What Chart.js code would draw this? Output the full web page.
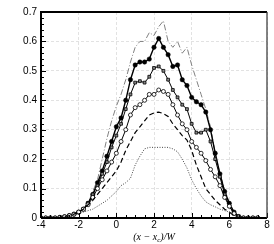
<!DOCTYPE html>
<html><head><meta charset="utf-8">
<script src="https://cdn.jsdelivr.net/npm/chart.js@4/dist/chart.umd.min.js"></script>
<style>html,body{margin:0;padding:0;background:#fff}#wrap{width:274px;height:244px}</style>
</head><body><div id="wrap"><canvas id="c" width="274" height="244"></canvas></div>
<script>
const xs = [-4,-3.75,-3.5,-3.25,-3,-2.75,-2.5,-2.25,-2,-1.75,-1.5,-1.25,-1,-0.75,-0.5,-0.25,0,0.25,0.5,0.75,1,1.25,1.5,1.75,2,2.25,2.5,2.75,3,3.25,3.5,3.75,4,4.25,4.5,4.75,5,5.25,5.5,5.75,6,6.25,6.5,6.75,7,7.25,7.5];
const dashDot = [0,0,0,0,0.002,0.004,0.008,0.012,0.02,0.03,0.05,0.09,0.13,0.2,0.27,0.33,0.38,0.42,0.47,0.53,0.58,0.6,0.6,0.63,0.62,0.65,0.67,0.6,0.58,0.6,0.56,0.58,0.52,0.47,0.42,0.37,0.31,0.22,0.15,0.1,0.05,0.02,0.005,0,0,0,0];
const filledCircles = [0,0,0,0,0.002,0.004,0.008,0.013,0.02,0.03,0.05,0.08,0.12,0.16,0.21,0.26,0.31,0.34,0.4,0.47,0.52,0.53,0.53,0.54,0.58,0.61,0.58,0.555,0.515,0.52,0.47,0.45,0.41,0.395,0.385,0.36,0.3,0.22,0.15,0.09,0.05,0.02,0.005,0,0,0,0];
const squares = [0,0,0,0,0.002,0.004,0.008,0.013,0.02,0.03,0.05,0.08,0.11,0.15,0.19,0.24,0.28,0.32,0.37,0.42,0.46,0.465,0.46,0.48,0.51,0.515,0.5,0.47,0.435,0.41,0.385,0.37,0.32,0.29,0.29,0.3,0.26,0.2,0.14,0.08,0.04,0.015,0.003,0,0,0,0];
const openCircles = [0,0,0,0,0.002,0.004,0.008,0.013,0.02,0.03,0.045,0.07,0.1,0.13,0.16,0.19,0.22,0.26,0.3,0.35,0.375,0.385,0.4,0.42,0.42,0.435,0.43,0.42,0.385,0.35,0.32,0.3,0.26,0.24,0.22,0.195,0.165,0.14,0.11,0.07,0.04,0.015,0.003,0,0,0,0];
const dashed = [0,0,0,0,0.002,0.004,0.008,0.013,0.02,0.03,0.045,0.06,0.08,0.1,0.12,0.14,0.16,0.19,0.23,0.26,0.29,0.31,0.33,0.35,0.357,0.36,0.355,0.345,0.32,0.3,0.28,0.265,0.23,0.18,0.14,0.1,0.08,0.06,0.045,0.03,0.02,0.008,0.002,0,0,0,0];
const dotted = [0,0,0,0,0.002,0.004,0.007,0.01,0.015,0.02,0.025,0.03,0.04,0.05,0.06,0.075,0.09,0.11,0.12,0.135,0.18,0.21,0.235,0.24,0.24,0.24,0.24,0.24,0.235,0.225,0.2,0.17,0.13,0.1,0.075,0.055,0.045,0.038,0.03,0.025,0.02,0.01,0.003,0,0,0,0];
const xTicks = [-4,-2,0,2,4,6,8];
const yTicks = [0,0.1,0.2,0.3,0.4,0.5,0.6,0.7];

const pts = ys => xs.map((x,i)=>({x:x,y:ys[i]}));

const frameAndTicks = {
  id:'frameAndTicks',
  afterDraw(chart){
    const ctx = chart.ctx, a = chart.chartArea;
    const sx = chart.scales.x, sy = chart.scales.y;
    ctx.save();
    ctx.strokeStyle = '#000';
    ctx.lineWidth = 1;
    for (let v = sx.min; v <= sx.max + 1e-9; v += 0.5) {
      const p = Math.round(sx.getPixelForValue(v)) + 0.5;
      const major = Math.abs(v/2 - Math.round(v/2)) < 1e-6;
      const len = major ? 5 : 3;
      ctx.beginPath(); ctx.moveTo(p, a.bottom); ctx.lineTo(p, a.bottom - len); ctx.stroke();
    }
    for (let v = sy.min; v <= sy.max + 1e-9; v += 0.02) {
      const p = Math.round(sy.getPixelForValue(v)) + 0.5;
      const major = Math.abs(v*10 - Math.round(v*10)) < 1e-6;
      const len = major ? 5 : 3;
      ctx.beginPath(); ctx.moveTo(a.left, p); ctx.lineTo(a.left + len, p); ctx.stroke();
    }
    ctx.lineWidth = 2;
    ctx.beginPath(); ctx.moveTo(a.left, a.bottom); ctx.lineTo(a.left, a.top); ctx.lineTo(a.right, a.top); ctx.stroke();
    ctx.beginPath(); ctx.moveTo(a.left, a.bottom); ctx.lineTo(a.right, a.bottom); ctx.stroke();
    ctx.lineWidth = 1.2; ctx.strokeStyle = '#333';
    ctx.beginPath(); ctx.moveTo(a.right, a.top); ctx.lineTo(a.right, a.bottom); ctx.stroke();
    ctx.fillStyle = '#000';
    ctx.textBaseline = 'alphabetic';
    const f1 = 'italic 10px "Liberation Serif"', f2 = 'italic 7px "Liberation Serif"';
    const p1 = '(x \u2212 x', p2 = 'c', p3 = ')/W';
    ctx.font = f1; const w1 = ctx.measureText(p1).width, w3 = ctx.measureText(p3).width;
    ctx.font = f2; const w2 = ctx.measureText(p2).width;
    const tot = w1 + w2 + w3;
    let x0 = (a.left + a.right)/2 - tot/2;
    const yb = chart.height - 4;
    ctx.font = f1; ctx.fillText(p1, x0, yb);
    ctx.font = f2; ctx.fillText(p2, x0 + w1, yb + 2);
    ctx.font = f1; ctx.fillText(p3, x0 + w1 + w2, yb);
    ctx.restore();
  }
};

new Chart(document.getElementById('c'), {
  type: 'scatter',
  data: { datasets: [
    { data: pts(dotted), showLine:true, borderColor:'#333', borderWidth:0.9, borderDash:[1,1.5], pointRadius:0 },
    { data: pts(dashed), showLine:true, borderColor:'#000', borderWidth:1.2, borderDash:[5,3], pointRadius:0 },
    { data: pts(openCircles), showLine:true, borderColor:'#000', borderWidth:1, pointRadius:2, pointStyle:'circle', pointBackgroundColor:'#fff', pointBorderColor:'#000', pointBorderWidth:0.8 },
    { data: pts(squares), showLine:true, borderColor:'#000', borderWidth:1, pointRadius:2, pointStyle:'rect', pointBackgroundColor:'#888', pointBorderColor:'#000', pointBorderWidth:0.8 },
    { data: pts(filledCircles), showLine:true, borderColor:'#000', borderWidth:1.4, pointRadius:2.2, pointStyle:'circle', pointBackgroundColor:'#000', pointBorderColor:'#000', pointBorderWidth:0.5 },
    { data: pts(dashDot), showLine:true, borderColor:'#808080', borderWidth:1, borderDash:[6,2,1,2], pointRadius:0 }
  ]},
  options: {
    responsive:false, animation:false, devicePixelRatio:1,
    layout:{ padding:{ top:12, right:7, left:0, bottom:0 } },
    plugins:{ legend:{display:false}, tooltip:{enabled:false} },
    scales:{
      x:{ type:'linear', min:-4, max:8,
        afterBuildTicks: s => { s.ticks = xTicks.map(v=>({value:v})); },
        afterFit: s => { s.height = 26; },
        grid:{ color:'#e2e2e2', lineWidth:1, drawTicks:false },
        border:{ display:false, dash:[3,2] },
        ticks:{ padding:1, color:'#000', font:{ family:'"Liberation Sans"', size:10 }, maxRotation:0 } },
      y:{ type:'linear', min:0, max:0.7,
        afterBuildTicks: s => { s.ticks = yTicks.map(v=>({value:v})); },
        afterFit: s => { s.width = 41; },
        grid:{ color:'#e2e2e2', lineWidth:1, drawTicks:false },
        border:{ display:false, dash:[3,2] },
        ticks:{ padding:4, color:'#000', font:{ family:'"Liberation Sans"', size:10 }, callback: v => String(+v.toFixed(2)) } }
    }
  },
  plugins:[frameAndTicks]
});
</script></body></html>
